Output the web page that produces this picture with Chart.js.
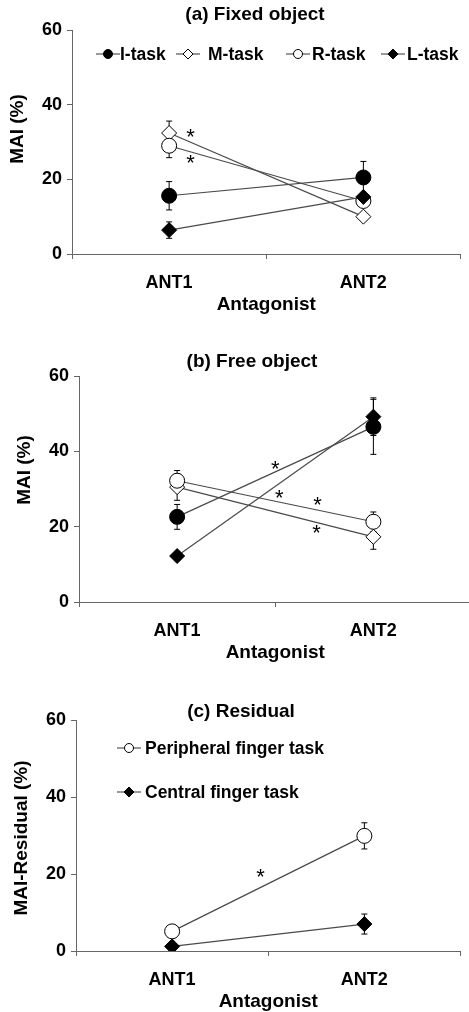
<!DOCTYPE html>
<html>
<head>
<meta charset="utf-8">
<script src="https://cdn.jsdelivr.net/npm/chart.js@4.4.0/dist/chart.umd.min.js"></script>
<style>
  html, body { margin: 0; padding: 0; width: 469px; height: 1012px; overflow: hidden; background: #fff; }
  canvas { position: absolute; left: 0; }
</style>
</head>
<body>
<canvas id="fixedChart" width="469" height="320" style="top:0px"></canvas>
<canvas id="freeChart" width="480" height="343" style="top:325px"></canvas>
<canvas id="residualChart" width="469" height="347" style="top:670px"></canvas>
<script>
// kategorier og akse
const antagonists = ['ANT1', 'ANT2'];
const yTicks = [0, 20, 40, 60];

// (a) Fixed object - MAI (%) og fejl
const fixedI = [15.6, 20.5], fixedIErr = [3.8, 4.3];
const fixedM = [32.4, 10.0], fixedMErr = [3.2, 1.0];
const fixedR = [29.0, 14.2], fixedRErr = [3.2, 1.5];
const fixedL = [6.4, 15.3],  fixedLErr = [2.2, 1.0];

// (b) Free object
const freeI = [22.6, 46.5], freeIErr = [3.3, 7.3];
const freeM = [30.5, 17.3], freeMErr = [3.5, 3.3];
const freeR = [32.2, 21.3], freeRErr = [2.7, 2.6];
const freeL = [12.2, 49.2], freeLErr = [1.0, 5.0];

// (c) Residual
const resPeripheral = [5.1, 29.9], resPeripheralErr = [0.8, 3.4];
const resCentral = [1.2, 7.0],     resCentralErr = [0.5, 2.6];

// signifikans-stjerner: [brøkdel mellem ANT1 og ANT2, y-værdi]
const fixedStars = [[0.11, 32.8], [0.11, 25.9]];
const freeStars = [[0.5, 36.9], [0.52, 29.2], [0.715, 27.1], [0.71, 19.9]];
const residualStars = [[0.46, 20.6]];

const FONT = "'Liberation Sans', Arial, Helvetica, sans-serif";
Chart.defaults.font.family = FONT;
Chart.defaults.font.weight = 'bold';
Chart.defaults.color = '#000';

const markers = {
  filledCircle:  { pointStyle: 'circle',  fill: '#000' },
  openCircle:    { pointStyle: 'circle',  fill: '#fff' },
  openDiamond:   { pointStyle: 'rectRot', fill: '#fff' },
  filledDiamond: { pointStyle: 'rectRot', fill: '#000' }
};

function series(label, data, errors, marker, idx, n) {
  const m = markers[marker];
  return {
    label, data, errors, marker,
    order: n - idx,
    borderColor: '#4a4a4a',
    borderWidth: 1.2,
    pointStyle: m.pointStyle,
    pointRadius: 7.5,
    pointBackgroundColor: m.fill,
    pointBorderColor: '#000',
    pointBorderWidth: 1,
    fill: false,
    tension: 0
  };
}

function drawMarker(ctx, marker, x, y, r) {
  const m = markers[marker];
  ctx.beginPath();
  if (m.pointStyle === 'circle') {
    ctx.arc(x, y, r, 0, Math.PI * 2);
  } else {
    ctx.moveTo(x - r, y); ctx.lineTo(x, y - r); ctx.lineTo(x + r, y); ctx.lineTo(x, y + r);
    ctx.closePath();
  }
  ctx.fillStyle = m.fill;
  ctx.fill();
  ctx.strokeStyle = '#000';
  ctx.lineWidth = 1;
  ctx.stroke();
}

// fejlbarer, titel, legende, y-titel og stjerner
const decor = {
  id: 'decor',
  beforeDatasetsDraw(chart) {
    const ctx = chart.ctx, ys = chart.scales.y;
    ctx.save();
    ctx.strokeStyle = '#000';
    ctx.lineWidth = 1;
    chart.data.datasets.forEach((ds, i) => {
      const meta = chart.getDatasetMeta(i);
      ds.errors.forEach((e, j) => {
        const x = meta.data[j].x;
        const y1 = ys.getPixelForValue(ds.data[j] + e);
        const y2 = ys.getPixelForValue(ds.data[j] - e);
        ctx.beginPath();
        ctx.moveTo(x, y1); ctx.lineTo(x, y2);
        ctx.moveTo(x - 3, y1); ctx.lineTo(x + 3, y1);
        ctx.moveTo(x - 3, y2); ctx.lineTo(x + 3, y2);
        ctx.stroke();
      });
    });
    ctx.restore();
  },
  afterDraw(chart, args, o) {
    const ctx = chart.ctx, xs = chart.scales.x, ys = chart.scales.y;
    ctx.save();
    // titel
    ctx.fillStyle = '#000';
    ctx.font = 'bold 19px ' + FONT;
    ctx.textAlign = 'center';
    ctx.textBaseline = 'middle';
    ctx.fillText(o.title, o.titleX, o.titleY);
    // y-titel
    ctx.save();
    ctx.translate(o.yTitleX, o.yTitleY);
    ctx.rotate(-Math.PI / 2);
    ctx.fillText(o.yTitle, 0, 0);
    ctx.restore();
    // legende
    ctx.font = 'bold 17.5px ' + FONT;
    ctx.textAlign = 'left';
    (o.legend || []).forEach((it, i) => {
      const ds = chart.data.datasets[i];
      ctx.strokeStyle = '#333';
      ctx.lineWidth = 1;
      ctx.beginPath();
      ctx.moveTo(it.x, it.y); ctx.lineTo(it.x + 24, it.y);
      ctx.stroke();
      drawMarker(ctx, ds.marker, it.x + 12, it.y, ds.marker.indexOf('Diamond') > 0 ? 5 : 4.5);
      ctx.fillStyle = '#000';
      ctx.fillText(ds.label, it.tx, it.y + 1);
    });
    // stjerner
    ctx.font = 'normal 22px ' + FONT;
    ctx.textAlign = 'center';
    ctx.textBaseline = 'alphabetic';
    const x0 = xs.getPixelForValue(0), x1 = xs.getPixelForValue(1);
    (o.stars || []).forEach(([f, v]) => {
      ctx.fillText('*', x0 + f * (x1 - x0), ys.getPixelForValue(v) + 12.5);
    });
    ctx.restore();
  }
};

function makePanel(id, datasets, p) {
  return new Chart(document.getElementById(id), {
    type: 'line',
    data: { labels: antagonists, datasets },
    plugins: [decor],
    options: {
      responsive: false,
      animation: false,
      events: [],
      layout: { padding: { top: p.top, left: 0, right: p.right, bottom: 0 } },
      plugins: {
        legend: { display: false },
        title: { display: false },
        tooltip: { enabled: false },
        decor: p.decor
      },
      scales: {
        x: {
          offset: true,
          ticks: { color: '#000', font: { size: 18, weight: 'bold' }, padding: 13 },
          grid: { offset: true, drawOnChartArea: false, tickLength: 5, color: '#666' },
          border: { color: '#666', width: 1 },
          title: { display: true, text: 'Antagonist', color: '#000', font: { size: 19, weight: 'bold' }, padding: { top: 0, bottom: 4 } },
          afterFit: s => { s.height = 66; }
        },
        y: {
          min: yTicks[0],
          max: yTicks[yTicks.length - 1],
          ticks: { stepSize: yTicks[1] - yTicks[0], color: '#000', font: { size: 18, weight: 'bold' }, padding: 5 },
          grid: { drawOnChartArea: false, tickLength: 5, color: '#666' },
          border: { color: '#666', width: 1 },
          afterFit: s => { s.width = p.left; }
        }
      }
    }
  });
}

const taskNames = ['I-task', 'M-task', 'R-task', 'L-task'];
const taskMarkers = ['filledCircle', 'openDiamond', 'openCircle', 'filledDiamond'];

// (a)
const fixedData = [fixedI, fixedM, fixedR, fixedL];
const fixedErr = [fixedIErr, fixedMErr, fixedRErr, fixedLErr];
makePanel('fixedChart',
  taskNames.map((n, i) => series(n, fixedData[i], fixedErr[i], taskMarkers[i], i, 4)),
  { top: 30, right: 6, left: 72,
    decor: { title: '(a) Fixed object', titleX: 255, titleY: 15,
      yTitle: 'MAI (%)', yTitleX: 18, yTitleY: 129,
      legend: [{ x: 96, y: 54, tx: 120 }, { x: 176, y: 54, tx: 208 }, { x: 286, y: 54, tx: 312 }, { x: 381, y: 54, tx: 407 }],
      stars: fixedStars } });

// (b)
const freeData = [freeI, freeM, freeR, freeL];
const freeErr = [freeIErr, freeMErr, freeRErr, freeLErr];
makePanel('freeChart',
  taskNames.map((n, i) => series(n, freeData[i], freeErr[i], taskMarkers[i], i, 4)),
  { top: 51, right: 2, left: 79,
    decor: { title: '(b) Free object', titleX: 252, titleY: 37,
      yTitle: 'MAI (%)', yTitleX: 25, yTitleY: 145,
      legend: [], stars: freeStars } });

// (c)
makePanel('residualChart',
  [series('Peripheral finger task', resPeripheral, resPeripheralErr, 'openCircle', 0, 2),
   series('Central finger task', resCentral, resCentralErr, 'filledDiamond', 1, 2)],
  { top: 50, right: 4, left: 76,
    decor: { title: '(c) Residual', titleX: 241, titleY: 42,
      yTitle: 'MAI-Residual (%)', yTitleX: 22, yTitleY: 168,
      legend: [{ x: 117, y: 78, tx: 145 }, { x: 117, y: 122, tx: 145 }],
      stars: residualStars } });
</script>
</body>
</html>
